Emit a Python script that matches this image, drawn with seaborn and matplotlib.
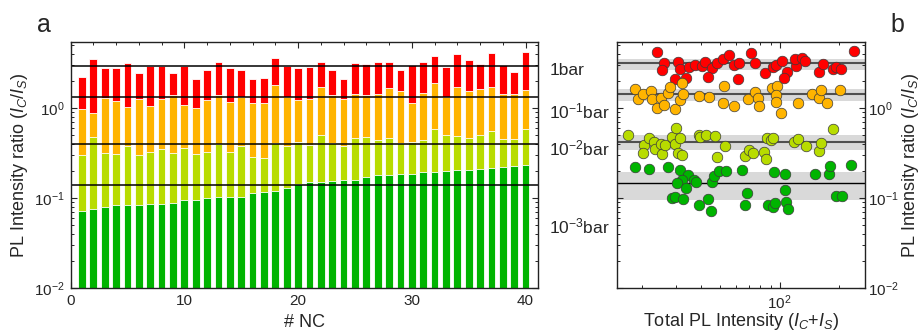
import numpy as np
import pandas as pd
import matplotlib
matplotlib.use("Agg")
import matplotlib.pyplot as plt
from matplotlib.ticker import LogLocator, MultipleLocator, NullFormatter
import seaborn as sns

sns.set_style("ticks")
plt.rcParams["font.family"] = ["Liberation Sans", "DejaVu Sans"]
plt.rcParams["mathtext.fontset"] = "custom"
plt.rcParams["mathtext.rm"] = "Liberation Sans"
plt.rcParams["mathtext.it"] = "Liberation Sans:italic"
plt.rcParams["mathtext.bf"] = "Liberation Sans:bold"

# ---- panel a: PL intensity ratio of each NC at four pressures ----
nc = list(range(1, 41))
ratio_1bar = [2.21, 3.47, 2.78, 2.78, 3.14, 2.43, 2.90, 2.90, 2.47, 2.90,
              2.08, 2.64, 3.27, 2.78, 2.64, 2.08, 2.15, 3.59, 2.93, 2.78,
              2.88, 3.24, 2.64, 2.12, 3.14, 3.08, 3.27, 3.27, 2.64, 2.98,
              3.27, 3.78, 2.88, 3.95, 3.44, 3.06, 4.09, 2.98, 2.49, 4.23]
ratio_1e1bar = [0.966, 0.873, 1.28, 1.20, 1.035, 1.27, 1.05, 1.25, 1.39, 1.07,
                0.99, 1.23, 1.41, 1.17, 1.34, 1.15, 1.15, 1.79, 1.33, 1.23,
                1.25, 1.71, 1.38, 1.25, 1.42, 1.38, 1.44, 1.68, 1.53, 1.15,
                1.46, 1.88, 1.33, 1.73, 1.55, 1.61, 1.73, 1.44, 1.43, 1.58]
ratio_1e2bar = [0.300, 0.476, 0.313, 0.311, 0.378, 0.298, 0.325, 0.347, 0.319, 0.356,
                0.311, 0.325, 0.395, 0.327, 0.378, 0.286, 0.276, 0.412, 0.378, 0.419,
                0.388, 0.506, 0.412, 0.378, 0.460, 0.476, 0.437, 0.460, 0.412, 0.419,
                0.440, 0.589, 0.497, 0.489, 0.468, 0.497, 0.555, 0.456, 0.449, 0.580]
ratio_1e3bar = [0.0717, 0.0760, 0.0794, 0.0836, 0.0836, 0.0836, 0.0850, 0.0860, 0.0888, 0.0950,
                0.0950, 0.0990, 0.1030, 0.1035, 0.1035, 0.1146, 0.1167, 0.1197, 0.1280, 0.1440,
                0.1510, 0.1520, 0.1545, 0.1580, 0.1580, 0.1726, 0.1786, 0.1816, 0.1860, 0.1860,
                0.1945, 0.1960, 0.1995, 0.2065, 0.2065, 0.2100, 0.2170, 0.2190, 0.2250, 0.2310]
mean_ratio_a = [2.90, 1.34, 0.395, 0.139]
pressure_labels = ["1bar", r"10$^{-1}$bar", r"10$^{-2}$bar", r"10$^{-3}$bar"]

# ---- panel b: ratio versus total PL intensity ----
red_x = [23.9, 25.8, 25.3, 30.4, 31.3, 34.9, 37.4, 40.5, 41.8, 45.2, 48.4, 51.8, 55.7,
         58.7, 29.6, 33.6, 43.3, 61.5, 62.5, 71.9, 74.8, 84.1, 92.4, 95.4, 103.2,
         109.5, 105.2, 120.7, 119.7, 130.6, 134.6, 158.6, 165.2, 185.7, 193.1, 204.6, 239.4]
red_y = [4.22, 3.14, 2.62, 3.27, 2.69, 2.86, 2.98, 2.93, 3.27, 2.80, 3.19, 3.53, 3.88,
         2.98, 2.08, 2.14, 2.23, 2.12, 3.14, 4.05, 3.19, 2.43, 2.86, 2.98, 3.33,
         2.51, 2.17, 2.93, 3.53, 3.62, 3.30, 2.53, 3.06, 2.69, 2.86, 2.69, 4.33]
orange_x = [18.4, 19.1, 20.4, 22.2, 22.5, 23.9, 25.1, 25.8, 27.2, 27.7, 29.4, 31.3,
            32.3, 32.0, 39.2, 44.1, 52.2, 51.6, 58.7, 69.2, 74.8, 77.8, 78.4, 91.0,
            97.3, 96.2, 96.2, 101.2, 124.0, 145.6, 158.6, 161.8, 173.0, 202.4]
orange_y = [1.61, 1.25, 1.42, 1.54, 1.25, 1.01, 1.30, 1.08, 1.46, 1.72, 0.982, 1.23,
            1.42, 1.88, 1.36, 1.33, 1.76, 1.15, 1.05, 1.25, 1.51, 1.30, 1.05, 1.68,
            1.76, 1.38, 1.17, 0.873, 1.15, 1.42, 1.30, 1.57, 1.15, 1.58]
yg_x = [17.1, 20.6, 20.4, 21.8, 23.2, 23.4, 25.1, 25.5, 26.3, 28.5, 29.6, 29.9,
        31.1, 30.4, 32.0, 38.9, 39.6, 42.5, 47.3, 52.8, 48.3, 66.6, 70.3, 73.1,
        83.1, 85.5, 86.5, 90.0, 92.4, 118.3, 124.5, 135.8, 158.6, 162.5, 187.2]
yg_y = [0.501, 0.385, 0.319, 0.468, 0.419, 0.353, 0.395, 0.306, 0.385, 0.480, 0.395, 0.595,
        0.468, 0.319, 0.300, 0.497, 0.480, 0.497, 0.489, 0.378, 0.288, 0.293, 0.341, 0.319,
        0.325, 0.273, 0.468, 0.441, 0.468, 0.419, 0.456, 0.378, 0.333, 0.411, 0.589]
green_x = [18.6, 21.9, 27.2, 31.3, 34.3, 32.0, 30.2, 33.6, 36.7, 37.7, 45.2, 46.4,
           49.5, 53.2, 64.6, 28.5, 29.6, 32.3, 38.9, 43.3, 44.9, 68.4, 66.6, 87.6,
           92.4, 94.6, 93.5, 106.4, 106.4, 107.3, 110.7, 150.9, 177.1, 179.9, 193.1,
           207.0, 230.1]
green_y = [0.221, 0.212, 0.221, 0.205, 0.179, 0.158, 0.148, 0.128, 0.158, 0.151, 0.152, 0.176,
           0.200, 0.200, 0.205, 0.099, 0.103, 0.0968, 0.0836, 0.0968, 0.0717, 0.1146, 0.0836,
           0.0836, 0.080, 0.0887, 0.196, 0.186, 0.122, 0.091, 0.076, 0.186, 0.186, 0.227,
           0.105, 0.105, 0.231]
mean_ratio_b = [3.19, 1.42, 0.423, 0.147]
band_low = [2.64, 1.20, 0.339, 0.094]
band_high = [3.53, 1.64, 0.500, 0.196]

colors = ["#ff0000", "#ffb400", "#b8dc00", "#00b400"]

fig = plt.figure(figsize=(9.23, 3.36), dpi=100)
ax_a = fig.add_axes([0.0765, 0.1429, 0.5064, 0.7321])
ax_b = fig.add_axes([0.6685, 0.1429, 0.2687, 0.7321])

# overlaid bars, tallest first
ax_a.set_yscale("log")
for vals, c in zip([ratio_1bar, ratio_1e1bar, ratio_1e2bar, ratio_1e3bar], colors):
    sns.barplot(x=nc, y=vals, native_scale=True, color=c, width=0.68,
                errorbar=None, saturation=1, edgecolor="white", linewidth=0.6,
                ax=ax_a)
for m in mean_ratio_a:
    ax_a.axhline(m, color="black", lw=1.1, zorder=4)
ax_a.set_xlim(0, 41.1)
ax_a.set_ylim(0.01, 5.41)
ax_a.xaxis.set_major_locator(MultipleLocator(10))
ax_a.xaxis.set_minor_locator(MultipleLocator(2))
ax_a.set_xlabel("# NC", fontsize=13, labelpad=5)
ax_a.set_ylabel(r"PL Intensity ratio ($I_C$/$I_S$)", fontsize=13, labelpad=3)
ypos = [0.886, 0.716, 0.569, 0.249]
for lab, yy in zip(pressure_labels, ypos):
    ax_a.text(1.024, yy, lab, transform=ax_a.transAxes, fontsize=12.5,
              ha="left", va="center")

# scatter panel
ax_b.set_xscale("log")
ax_b.set_yscale("log")
for lo, hi in zip(band_low, band_high):
    ax_b.axhspan(lo, hi, color="#d9d9d9", lw=0, zorder=0)
for i, m in enumerate(mean_ratio_b):
    if i < 3:
        ax_b.axhline(m, color="#505050", lw=1.5, zorder=1)
    else:
        ax_b.axhline(m, color="black", lw=1.0, zorder=1)
for xs, ys, c in zip([red_x, orange_x, yg_x, green_x],
                     [red_y, orange_y, yg_y, green_y], colors):
    sns.scatterplot(x=xs, y=ys, color=c, s=58, edgecolor="#3a3a3a",
                    linewidth=0.5, ax=ax_b, zorder=3)
ax_b.set_xlim(15, 271)
ax_b.set_ylim(0.01, 5.41)
ax_b.set_xlabel(r"Total PL Intensity ($I_C$+$I_S$)", fontsize=13, labelpad=-1)
ax_b.yaxis.set_label_position("right")
ax_b.set_ylabel(r"PL Intensity ratio ($I_C$/$I_S$)", fontsize=13, labelpad=1)
ax_b.xaxis.set_minor_formatter(NullFormatter())

for ax in (ax_a, ax_b):
    ax.yaxis.set_major_locator(LogLocator(base=10, numticks=10))
    ax.yaxis.set_minor_locator(LogLocator(base=10, subs=np.arange(2, 10), numticks=10))
    ax.yaxis.set_minor_formatter(NullFormatter())
    for s in ax.spines.values():
        s.set_linewidth(1.0)
        s.set_color("#222222")
        s.set_visible(True)
        s.set_zorder(5)
    ax.tick_params(which="major", direction="in", length=4, width=0.8,
                   labelsize=11, top=True, right=True, pad=4)
    ax.tick_params(which="minor", direction="in", length=2.5, width=0.7,
                   top=True, right=True)

ax_a.tick_params(axis="x", which="both", bottom=True, direction="in")
ax_b.tick_params(axis="y", which="both", labelleft=False, labelright=True)
ax_b.tick_params(axis="y", which="major", pad=2)

fig.text(0.048, 0.925, "a", fontsize=18, ha="center", va="center")
fig.text(0.972, 0.925, "b", fontsize=18, ha="center", va="center")

fig.savefig("out.png", dpi=100)
